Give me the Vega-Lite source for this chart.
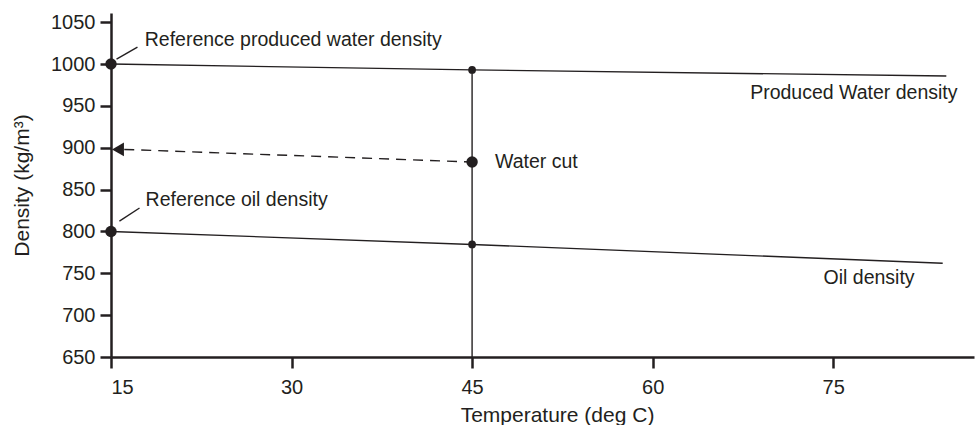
{
  "$schema": "https://vega.github.io/schema/vega-lite/v6.json",
  "autosize": "none",
  "width": 863,
  "height": 344,
  "padding": {"left": 111, "top": 13, "right": 4, "bottom": 68},
  "background": "white",
  "config": {
    "view": {"stroke": null},
    "font": "Liberation Sans",
    "axis": {
      "domainColor": "#231f20",
      "domainWidth": 2.5,
      "tickColor": "#231f20",
      "tickWidth": 2.5,
      "tickSize": 11,
      "grid": false,
      "labelFont": "Liberation Sans",
      "labelFontSize": 20,
      "labelColor": "#231f20",
      "titleFont": "Liberation Sans",
      "titleFontSize": 21,
      "titleFontWeight": "normal",
      "titleColor": "#231f20"
    },
    "text": {"font": "Liberation Sans", "fontSize": 19.5, "color": "#231f20"}
  },
  "datasets": {
    "lines": [
      {"series": "water", "T": 15, "D": 1000},
      {"series": "water", "T": 45, "D": 993},
      {"series": "water", "T": 84.4, "D": 985.7},
      {"series": "oil", "T": 15, "D": 800},
      {"series": "oil", "T": 45, "D": 784.5},
      {"series": "oil", "T": 84.1, "D": 762}
    ],
    "bigdots": [
      {"T": 15, "D": 1000},
      {"T": 15, "D": 800},
      {"T": 45, "D": 883}
    ],
    "smalldots": [
      {"T": 45, "D": 993},
      {"T": 45, "D": 784.5}
    ],
    "segments": [
      {"T": 45, "D": 650, "T2": 45, "D2": 993},
      {"T": 15.46, "D": 1006, "T2": 17.2, "D2": 1020.3},
      {"T": 15.7, "D": 812.4, "T2": 17.37, "D2": 828}
    ],
    "dashed": [
      {"T": 16.1, "D": 898, "T2": 45, "D2": 883}
    ],
    "arrow": [
      {"T": 15.58, "D": 898}
    ],
    "labels": [
      {"T": 17.8, "D": 1028.7, "label": "Reference produced water density"},
      {"T": 17.87, "D": 837.5, "label": "Reference oil density"},
      {"T": 68.1, "D": 965.4, "label": "Produced Water density"},
      {"T": 74.2, "D": 744.3, "label": "Oil density"},
      {"T": 46.9, "D": 883, "label": "Water cut"}
    ]
  },
  "encoding": {
    "x": {
      "field": "T", "type": "quantitative",
      "scale": {"domain": [15, 86.7], "nice": false, "zero": false},
      "axis": {
        "values": [15, 30, 45, 60, 75],
        "format": "d",
        "labelPadding": 9,
        "title": "Temperature (deg C)",
        "titleX": 446, "titleY": 58, "titleBaseline": "middle"
      }
    },
    "y": {
      "field": "D", "type": "quantitative",
      "scale": {"domain": [650, 1061], "nice": false, "zero": false},
      "axis": {
        "values": [650, 700, 750, 800, 850, 900, 950, 1000, 1050],
        "format": "d",
        "labelPadding": 5,
        "title": "Density (kg/m³)",
        "titleX": -89, "titleBaseline": "middle"
      }
    }
  },
  "layer": [
    {
      "data": {"name": "lines"},
      "mark": {"type": "line", "color": "#231f20", "strokeWidth": 1.4},
      "encoding": {"detail": {"field": "series"}}
    },
    {
      "data": {"name": "segments"},
      "mark": {"type": "rule", "color": "#231f20", "strokeWidth": 1.4},
      "encoding": {"x2": {"field": "T2"}, "y2": {"field": "D2"}}
    },
    {
      "data": {"name": "dashed"},
      "mark": {"type": "rule", "color": "#231f20", "strokeWidth": 1.4, "strokeDash": [10, 7]},
      "encoding": {"x2": {"field": "T2"}, "y2": {"field": "D2"}}
    },
    {
      "data": {"name": "arrow"},
      "mark": {"type": "point", "shape": "triangle-left", "filled": true, "color": "#231f20", "size": 190, "opacity": 1}
    },
    {
      "data": {"name": "bigdots"},
      "mark": {"type": "circle", "color": "#231f20", "size": 130, "opacity": 1}
    },
    {
      "data": {"name": "smalldots"},
      "mark": {"type": "circle", "color": "#231f20", "size": 60, "opacity": 1}
    },
    {
      "data": {"name": "labels"},
      "mark": {"type": "text", "align": "left", "baseline": "middle"},
      "encoding": {"text": {"field": "label"}}
    }
  ]
}
